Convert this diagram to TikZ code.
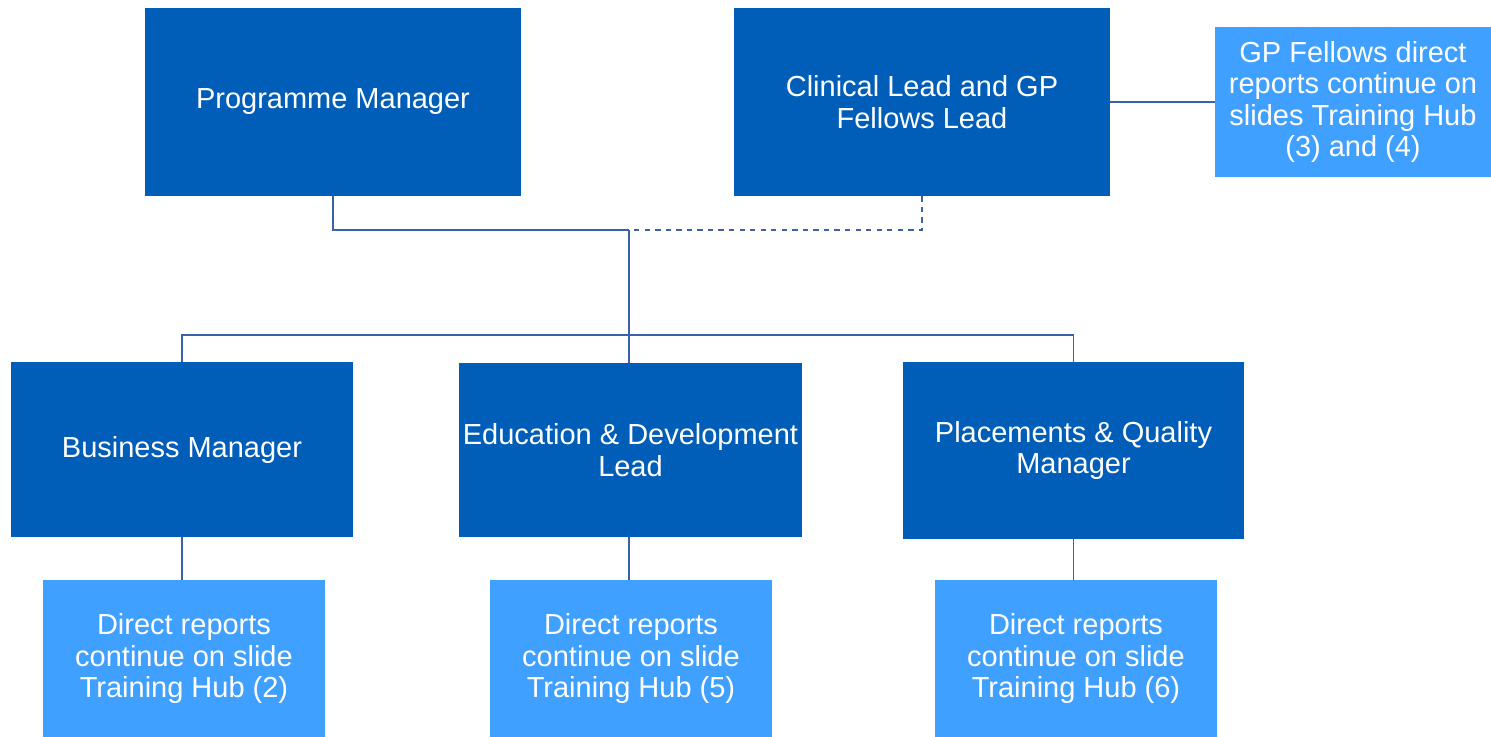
\documentclass[tikz,border=0pt]{standalone}
\usepackage{fontspec}
\setmainfont{Liberation Sans}
\definecolor{nhsblue}{HTML}{005EB8}
\definecolor{hubblue}{HTML}{3FA0FF}
\definecolor{linkblue}{HTML}{3A62A8}
\tikzset{orgbox/.style={fill=nhsblue, text=white, align=center, inner sep=0pt, font=\fontsize{16.5}{18}\selectfont}}
\tikzset{notebox/.style={fill=hubblue, text=white, align=center, inner sep=0pt, minimum width=5.64cm, font=\fontsize{16.5}{18}\selectfont}}
\tikzset{link/.style={draw=linkblue, line width=0.8pt}}

\begin{document}
\begin{tikzpicture}[x=0.02cm, y=-0.02cm]
    \useasboundingbox (0,0) rectangle (1491,737);
    % top row
    \node (pm) at (333,102) [orgbox, minimum width=7.52cm, minimum height=3.76cm] {Programme Manager};
    \node (cl) at (922,102) [orgbox, minimum width=7.52cm, minimum height=3.76cm] {Clinical Lead and GP\\Fellows Lead};
    \node (gp) at (1353,102) [notebox, minimum width=5.52cm, minimum height=3.0cm] {GP Fellows direct\\reports continue on\\slides Training Hub\\(3) and (4)};
    % middle row
    \node (bm) at (182,449.5) [orgbox, minimum width=6.84cm, minimum height=3.5cm] {Business Manager};
    \node (ed) at (630.5,450) [orgbox, minimum width=6.86cm, minimum height=3.48cm] {Education \& Development\\Lead};
    \node (pq) at (1073.5,450.5) [orgbox, minimum width=6.82cm, minimum height=3.54cm] {Placements \& Quality\\Manager};
    % bottom row
    \node (d2) at (184,658.5) [notebox, minimum height=3.14cm] {Direct reports\\continue on slide\\Training Hub (2)};
    \node (d5) at (631,658.5) [notebox, minimum height=3.14cm] {Direct reports\\continue on slide\\Training Hub (5)};
    \node (d6) at (1076,658.5) [notebox, minimum height=3.14cm] {Direct reports\\continue on slide\\Training Hub (6)};

    \coordinate (top) at (629,230);
    \coordinate (bus) at (629,335);
    \draw [link] (pm.south) |- (top);
    \draw [link, dashed] (cl.south) |- (top);
    \draw [link] (top) -- (top |- ed.north);
    \draw [link] (bm.north) |- (bus) -| (pq.north);
    \draw [link] (cl.east) -- (gp.west);
    \draw [link] (bm.south) -- (bm.south |- d2.north);
    \draw [link] (ed.south -| top) -- (top |- d5.north);
    \draw [link] (pq.south) -- (pq.south |- d6.north);
\end{tikzpicture}
\end{document}
